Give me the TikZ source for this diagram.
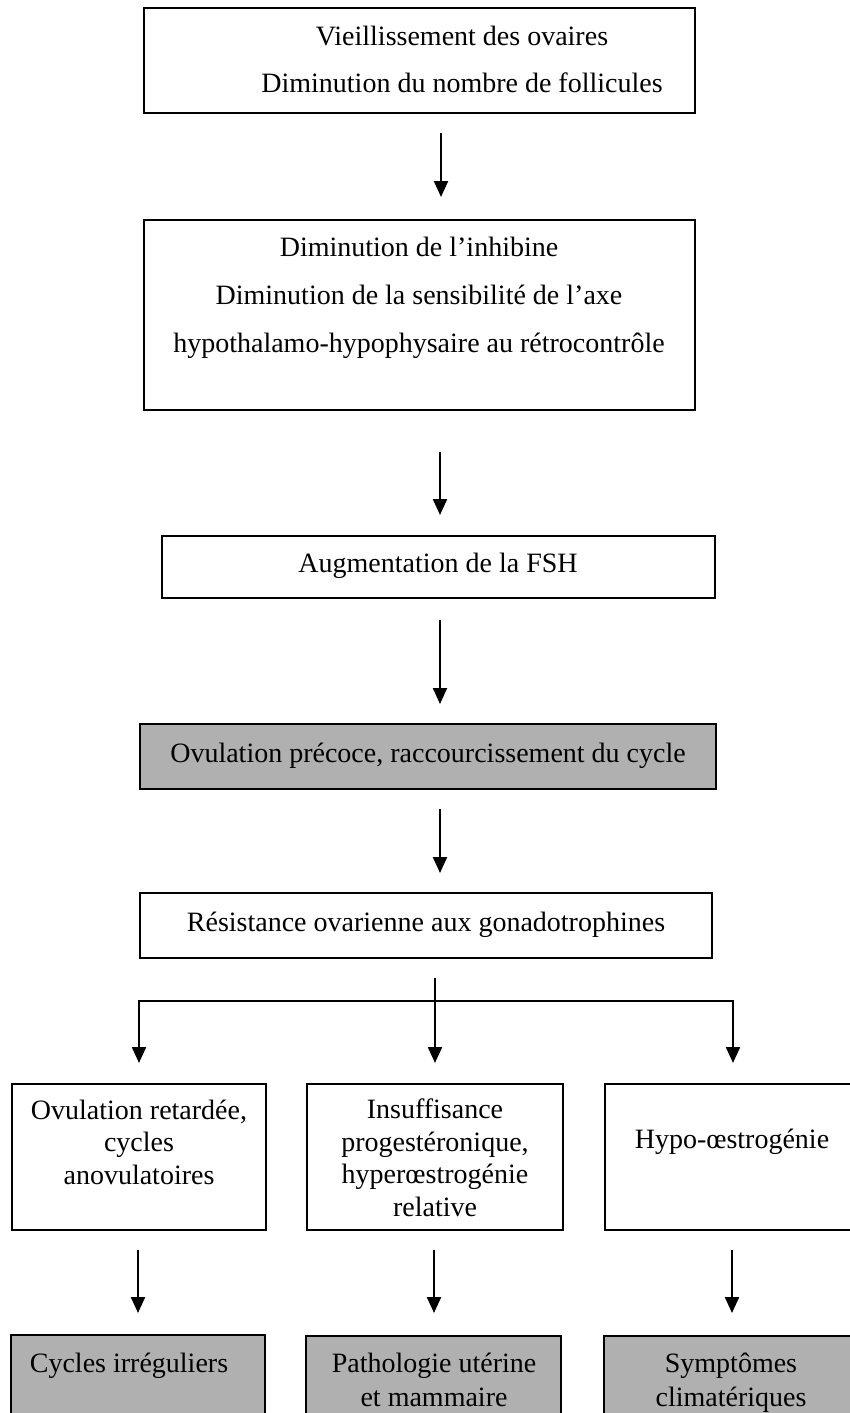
\documentclass[tikz,border=0pt]{standalone}
\usepackage{fontspec}
\setmainfont{Liberation Serif}
\usetikzlibrary{arrows.meta}
\definecolor{boxgray}{gray}{0.69}
\begin{document}
\begin{tikzpicture}[x=0.5pt,y=-0.5pt,
  box/.style={draw=black, line width=1.3pt, inner sep=0pt, rectangle},
  graybox/.style={box, fill=boxgray},
  txt/.style={font=\fontsize{14pt}{24pt}\selectfont, align=center, inner sep=0pt, anchor=base},
  txts/.style={font=\fontsize{14pt}{16.2pt}\selectfont, align=center, inner sep=0pt, anchor=base},
  txtg/.style={font=\fontsize{14pt}{17pt}\selectfont, align=center, inner sep=0pt, anchor=base},
  arr/.style={line width=1.1pt, -{Triangle[width=7pt,length=8pt]}}]
\useasboundingbox (0,0) rectangle (850,1413);
\clip (0,0) rectangle (850,1413);

% boxes
\node[box, minimum width=275.5pt, minimum height=52.5pt] (b1) at (419.5,60.5) {};
\node[box, minimum width=275.5pt, minimum height=95pt] (b2) at (419.5,315) {};
\node[box, minimum width=276.5pt, minimum height=31pt] (b3) at (438.5,567) {};
\node[graybox, minimum width=288pt, minimum height=32.5pt] (b4) at (428,756.5) {};
\node[box, minimum width=286pt, minimum height=32.5pt] (b5) at (426,925.5) {};
\node[box, minimum width=127pt, minimum height=73pt] (bA) at (139,1157) {};
\node[box, minimum width=128pt, minimum height=73pt] (bB) at (435,1157) {};
\node[box, minimum width=128pt, minimum height=73pt] (bC) at (733,1157) {};
\node[graybox, minimum width=127pt, minimum height=52.5pt] (gA) at (138,1387.5) {};
\node[graybox, minimum width=127.5pt, minimum height=52pt] (gB) at (433.5,1388) {};
\node[graybox, minimum width=128pt, minimum height=52pt] (gC) at (732,1388) {};

% texts (base anchor = baseline of the last line)
\node[txt] (t1) at (462,93) {Vieillissement des ovaires\\Diminution du nombre de follicules};
\node[txt] (t2) at (419,352) {Diminution de l’inhibine\\Diminution de la sensibilité de l’axe\\hypothalamo-hypophysaire au rétrocontrôle};
\node[txt] (t3) at (438,572) {Augmentation de la FSH};
\node[txt] (t4) at (428,762) {Ovulation précoce, raccourcissement du cycle};
\node[txt] (t5) at (426,931) {Résistance ovarienne aux gonadotrophines};
\node[txts] (tA) at (139,1184) {Ovulation retardée,\\cycles\\anovulatoires};
\node[txts] (tB) at (435,1216) {Insuffisance\\progestéronique,\\hyperœstrogénie\\relative};
\node[txts] (tC) at (732,1148) {Hypo-œstrogénie};
\node[txtg] (tgA) at (129,1372) {Cycles irréguliers};
\node[txtg] (tgB) at (434,1406) {Pathologie utérine\\et mammaire};
\node[txtg] (tgC) at (731,1406) {Symptômes\\climatériques};

% connector end points
\coordinate (a1s) at (441,133); \coordinate (a1e) at (441,197);
\coordinate (a2s) at (440,452); \coordinate (a2e) at (440,515);
\coordinate (a3s) at (440,620); \coordinate (a3e) at (440,704);
\coordinate (a4s) at (440,809); \coordinate (a4e) at (440,873);
\coordinate (ss) at (435,978); \coordinate (se) at (435,1063);
\coordinate (jc) at (435,1001);
\coordinate (le) at (139,1063); \coordinate (re) at (733,1063);
\coordinate (aAs) at (138,1250); \coordinate (aAe) at (138,1313);
\coordinate (aBs) at (434,1250); \coordinate (aBe) at (434,1313);
\coordinate (aCs) at (732,1250); \coordinate (aCe) at (732,1313);

% connectors
\draw[arr] (a1s) -- (a1e);
\draw[arr] (a2s) -- (a2e);
\draw[arr] (a3s) -- (a3e);
\draw[arr] (a4s) -- (a4e);
\draw[arr] (ss) -- (se);
\draw[arr] (jc) -| (le);
\draw[arr] (jc) -| (re);
\draw[arr] (aAs) -- (aAe);
\draw[arr] (aBs) -- (aBe);
\draw[arr] (aCs) -- (aCe);
\end{tikzpicture}
\end{document}
